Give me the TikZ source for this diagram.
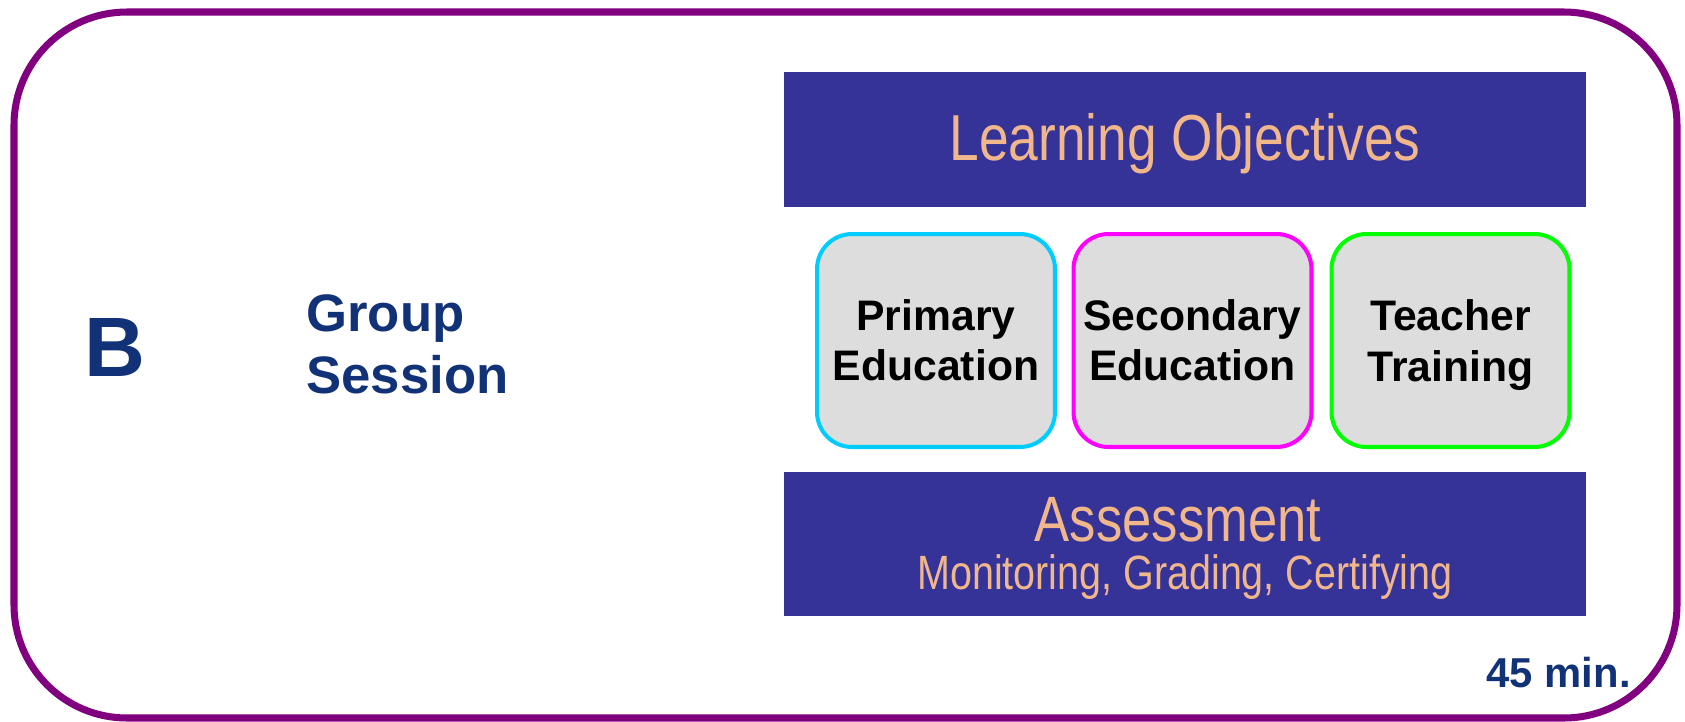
\documentclass[tikz,border=0pt]{standalone}
\usepackage{fontspec}
\setmainfont{Liberation Sans}
\newfontfamily\narrowfont[FakeStretch=0.82]{Liberation Sans}
\definecolor{framepurple}{RGB}{128,0,128}
\definecolor{barblue}{RGB}{53,51,151}
\definecolor{peach}{RGB}{240,182,140}
\definecolor{navy}{RGB}{18,50,120}
\definecolor{boxgrey}{RGB}{221,221,221}
\definecolor{edcyan}{RGB}{0,204,255}
\definecolor{edmagenta}{RGB}{255,0,255}
\definecolor{edgreen}{RGB}{0,255,0}

\tikzset{
  bar/.style={rectangle,fill=barblue,minimum width=16.04cm,inner sep=0pt},
  bartext/.style={anchor=base,text=peach,inner sep=0pt},
  track/.style={rectangle,rounded corners=0.7cm,fill=boxgrey,line width=2.3pt,
    minimum width=4.76cm,minimum height=4.26cm,align=center,
    font=\bfseries\fontsize{24.3}{28.5}\selectfont},
  navytext/.style={text=navy,inner sep=0pt}
}

\begin{document}
\begin{tikzpicture}[x=0.02cm,y=-0.02cm]
\useasboundingbox (0,0) rectangle (1685,721);
% outer frame
\draw[framepurple,line width=4pt,rounded corners=2.26cm] (14,12) rectangle (1677,718);

% left labels
\node (letter) at (115,376) [navytext,anchor=base,font=\bfseries\fontsize{48}{56}\selectfont] {B};
\node (session) at (306,344) [navytext,anchor=west,align=left,font=\bfseries\fontsize{30}{35.3}\selectfont] {Group\\Session};

% top and bottom bars
\node (objectives) at (1185,139.5) [bar,minimum height=2.7cm] {};
\node (objtext) at (1185,160) [bartext,font=\narrowfont\fontsize{37}{44}\selectfont] {Learning Objectives};
\node (assess) at (1185,544) [bar,minimum height=2.88cm] {};
\node (asstext) at (1178,541) [bartext,font=\narrowfont\fontsize{36.5}{43}\selectfont] {Assessment};
\node (asssub) at (1185,589) [bartext,font=\narrowfont\fontsize{27.4}{32}\selectfont] {Monitoring, Grading, Certifying};

% the three tracks
\node (primary) at (936,340.5) [track,draw=edcyan] {Primary\\Education};
\node (secondary) at (1192.5,340.5) [track,draw=edmagenta] {Secondary\\Education};
\node (teacher) at (1450.5,340.5) [track,draw=edgreen] {Teacher\\\smash{Training}};

\node (duration) at (1631,687) [navytext,anchor=base east,font=\bfseries\fontsize{23.8}{28}\selectfont] {45 min.};
\end{tikzpicture}
\end{document}
